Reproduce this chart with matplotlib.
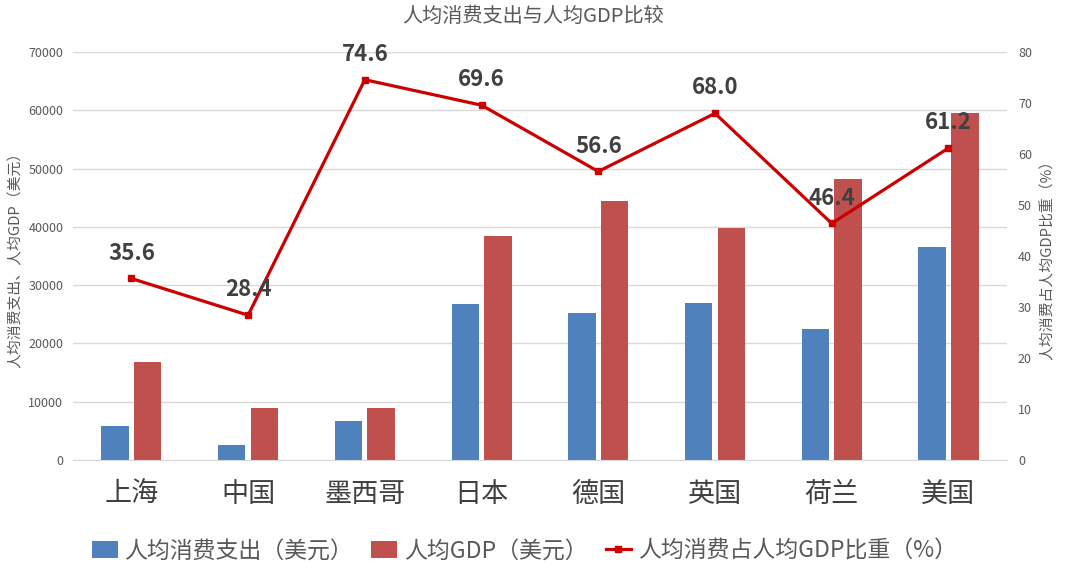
import matplotlib.pyplot as plt
import numpy as np

plt.rcParams['font.family'] = ['Noto Sans CJK SC', 'DejaVu Sans']

regions = ['上海', '中国', '墨西哥', '日本', '德国', '英国', '荷兰', '美国']
consumption = [5800, 2600, 6700, 26800, 25200, 26900, 22400, 36500]
gdp = [16800, 8900, 8900, 38400, 44400, 39800, 48300, 59600]
ratio = [35.6, 28.4, 74.6, 69.6, 56.6, 68.0, 46.4, 61.2]

blue = '#4F81BD'
red = '#C0504D'
line_red = '#CC0000'
text_grey = '#595959'

fig = plt.figure(figsize=(10.66, 5.8), dpi=100)
ax = fig.add_axes([0.0685, 0.207, 0.876, 0.703])
ax2 = ax.twinx()

x = np.arange(len(regions))
w = 0.235
b1 = ax.bar(x - 0.14, consumption, w, color=blue, label='人均消费支出（美元）', zorder=2)
b2 = ax.bar(x + 0.14, gdp, w, color=red, label='人均GDP（美元）', zorder=2)

ln, = ax2.plot(x, ratio, color=line_red, lw=2.3, marker='s', ms=4.5,
               label='人均消费占人均GDP比重（%）')
for xi, v in zip(x, ratio):
    ax2.annotate(f'{v:.1f}', (xi, v), xytext=(0, 10), textcoords='offset points',
                 ha='center', va='bottom', fontsize=16, fontweight='bold', color='#404040')

ax.set_xlim(-0.5, len(regions) - 0.5)
ax.set_ylim(0, 70000)
ax.set_yticks(np.arange(0, 70001, 10000))
ax2.set_ylim(0, 80)
ax2.set_yticks(np.arange(0, 81, 10))

ax.grid(axis='y', color='#D9D9D9', lw=1, zorder=0)
ax.set_axisbelow(True)
for a in (ax, ax2):
    for s in a.spines.values():
        s.set_visible(False)
ax.spines['bottom'].set_visible(True)
ax.spines['bottom'].set_color('#D9D9D9')

ax.set_xticks(x)
ax.set_xticklabels(regions, fontsize=19.5, color='#404040')
ax.tick_params(axis='x', length=0, pad=15)
ax.tick_params(axis='y', length=0, labelsize=9, labelcolor=text_grey, pad=7)
ax2.tick_params(axis='y', length=0, labelsize=9, labelcolor=text_grey, pad=8)

ax.set_ylabel('人均消费支出、人均GDP（美元）', fontsize=10.7, color=text_grey, labelpad=4)
ax2.set_ylabel('人均消费占人均GDP比重（%）', fontsize=10.7, color=text_grey,
               rotation=90, labelpad=6)

fig.suptitle('人均消费支出与人均GDP比较', fontsize=14.5, color=text_grey, y=0.99)

fig.legend(handles=[b1, b2, ln], loc='center', bbox_to_anchor=(0.492, 0.05), ncol=3,
           frameon=False, fontsize=16.5, labelcolor=text_grey, handlelength=1.1,
           handletextpad=0.3, columnspacing=0.8)

fig.savefig('out.png', dpi=100)
